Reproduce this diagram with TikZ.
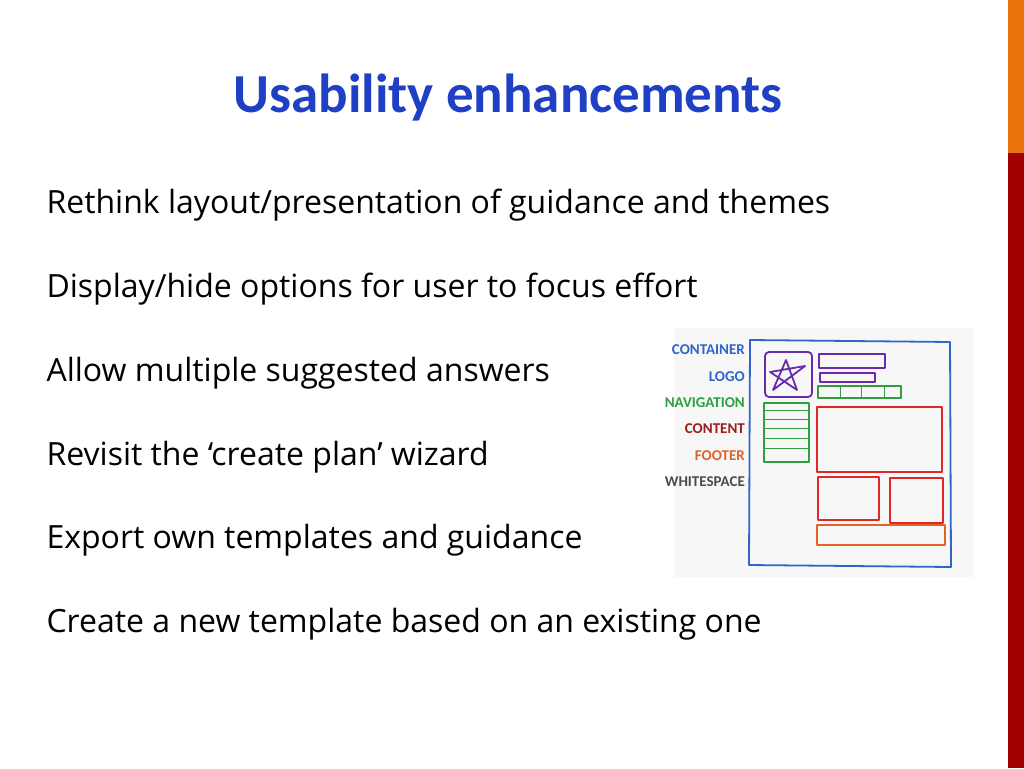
\documentclass[tikz,border=0pt]{standalone}
\usepackage{fontspec}
\setmainfont{Carlito}
\newfontfamily\bodyfont{Open Sans}
\definecolor{titleblue}{HTML}{1F3FC4}
\definecolor{barorange}{HTML}{E8720C}
\definecolor{barred}{HTML}{A00000}
\definecolor{skblue}{HTML}{2F66C8}
\definecolor{skpurple}{HTML}{6A2AB0}
\definecolor{skgreen}{HTML}{2EA040}
\definecolor{skred}{HTML}{E02828}
\definecolor{skorange}{HTML}{E0642A}
\begin{document}
\begin{tikzpicture}[x=1pt,y=-1pt,
   bullet/.style={anchor=west,font=\bodyfont\fontsize{32}{32}\selectfont},
   sklabel/.style={anchor=east,font=\fontsize{15}{15}\selectfont\bfseries,inner sep=0pt},
   sketch/.style={line width=1.8pt,line join=round}]
\useasboundingbox (0,0) rectangle (1024,768);
\fill[barorange] (1008,0) rectangle (1024,153);
\fill[barred] (1008,153) rectangle (1024,768);
\node[font=\fontsize{55}{55}\selectfont\bfseries,text=titleblue] (title) at (508,98) {Usability enhancements};
\node[bullet] (b1) at (43,205) {Rethink layout/presentation of guidance and themes};
\node[bullet] (b2) at (43,289) {Display/hide options for user to focus effort};
\node[bullet] (b3) at (43,373) {Allow multiple suggested answers};
\node[bullet] (b4) at (43,457) {Revisit the ‘create plan’ wizard};
\node[bullet] (b5) at (43,540) {Export own templates and guidance};
\node[bullet] (b6) at (43,624) {Create a new template based on an existing one};
% sketch
\fill[gray!6] (674,328) rectangle (973,577);
\node[sklabel,text=skblue] (lcont) at (745,350) {CONTAINER};
\node[sklabel,text=skblue] (llogo) at (745,377) {LOGO};
\node[sklabel,text=skgreen] (lnav) at (745,403) {NAVIGATION};
\node[sklabel,text=skred!70!black] (lcontent) at (745,429) {CONTENT};
\node[sklabel,text=skorange] (lfoot) at (745,456) {FOOTER};
\node[sklabel,text=black!70] (lwhite) at (745,482) {WHITESPACE};
\draw[sketch,skblue] (750,340) -- (950,342) -- (951,567) -- (749,565) -- cycle;
\draw[sketch,skpurple,rounded corners=4pt] (765,352) rectangle (812,397);
\draw[sketch,skpurple] (773,390) -- (786,360) -- (797,390) -- (770,372) -- (805,366) -- cycle;
\draw[sketch,skpurple] (819,354) rectangle (885,368);
\draw[sketch,skpurple] (820,373) rectangle (875,382);
\draw[sketch,skgreen] (818,386) rectangle (901,398);
\foreach \x in {840,861,884} \draw[skgreen,line width=1pt] (\x,386) -- (\x,398);
\draw[sketch,skgreen] (764,403) rectangle (809,462);
\foreach \y in {410,419,428,438,448} \draw[skgreen,line width=1pt] (764,\y) -- (809,\y);
\draw[sketch,skred] (817,407) rectangle (942,472);
\draw[sketch,skred] (818,477) rectangle (879,520);
\draw[sketch,skred] (890,478) rectangle (943,523);
\draw[sketch,skorange] (817,525) rectangle (945,545);
\end{tikzpicture}
\end{document}
